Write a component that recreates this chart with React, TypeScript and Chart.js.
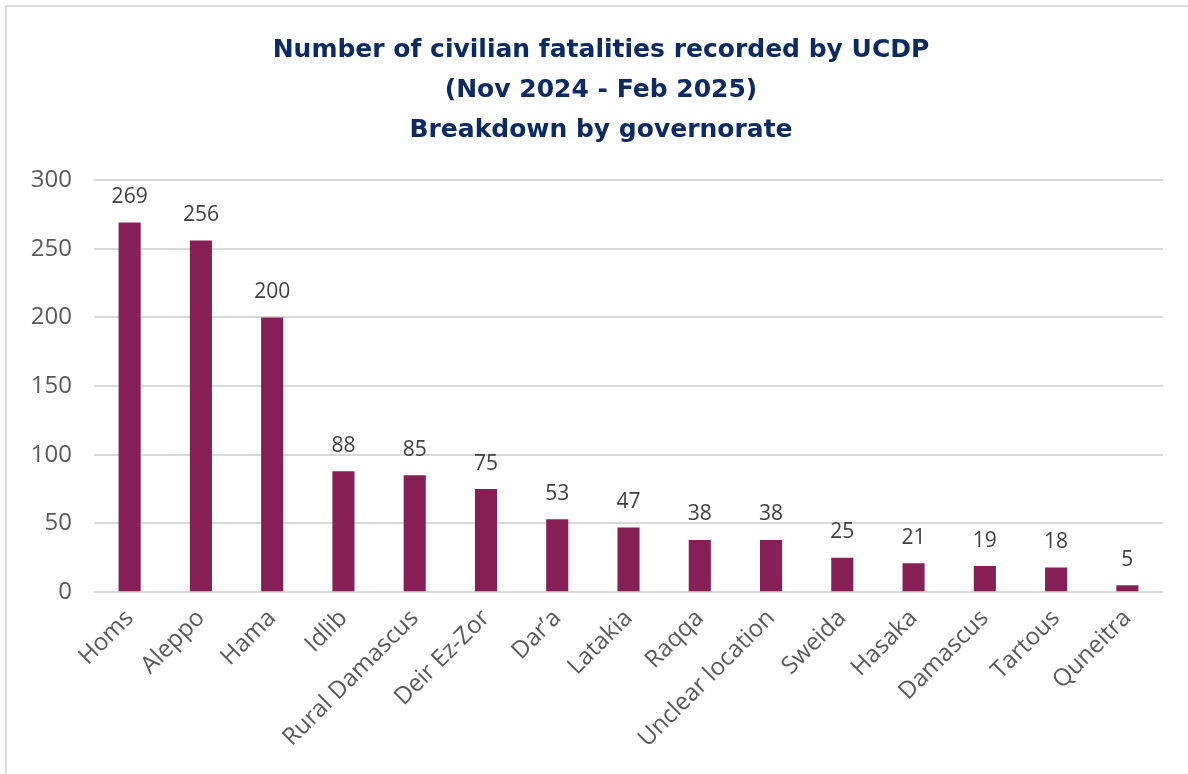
import React, { useEffect, useRef } from "react";
import { Chart, registerables } from "chart.js";

Chart.register(...registerables);

const categories = [
  "Homs", "Aleppo", "Hama", "Idlib", "Rural Damascus", "Deir Ez-Zor", "Dar’a", "Latakia",
  "Raqqa", "Unclear location", "Sweida", "Hasaka", "Damascus", "Tartous", "Quneitra",
];
const fatalities = [269, 256, 200, 88, 85, 75, 53, 47, 38, 38, 25, 21, 19, 18, 5];
const yTicks = [0, 50, 100, 150, 200, 250, 300];
const titleLines = [
  "Number of civilian fatalities recorded by UCDP",
  "(Nov 2024 - Feb 2025)",
  "Breakdown by governorate",
];

const FONT = "'Open Sans', sans-serif";

const valueLabels = {
  id: "valueLabels",
  afterLayout(chart: any) {
    // nudge the title's centre to match the original
    if (chart.titleBlock) chart.titleBlock.left += 19;
  },
  afterDatasetsDraw(chart: any) {
    const ctx = chart.ctx;
    const meta = chart.getDatasetMeta(0);
    ctx.save();
    ctx.font = "21px " + FONT;
    ctx.fillStyle = "#404040";
    ctx.textAlign = "center";
    ctx.textBaseline = "bottom";
    meta.data.forEach((bar: any, i: number) => {
      ctx.fillText(String(chart.data.datasets[0].data[i]), bar.x, bar.y - 15);
    });
    ctx.restore();
  },
};

export default function App() {
  const ref = useRef<HTMLCanvasElement | null>(null);
  useEffect(() => {
    if (!ref.current) return;
    const chart = new Chart(ref.current, {
      type: "bar",
      data: {
        labels: categories,
        datasets: [
          {
            data: fatalities,
            backgroundColor: "#861f55",
            barPercentage: 0.62,
            categoryPercentage: 0.5,
          },
        ],
      },
      options: {
        animation: false,
        responsive: false,
        maintainAspectRatio: false,
        layout: { padding: { left: 20, right: 25, top: 10, bottom: 17 } },
        plugins: {
          legend: { display: false },
          tooltip: { enabled: false },
          title: {
            display: true,
            text: titleLines,
            color: "#0d2a62",
            font: { family: "'DejaVu Sans', sans-serif", size: 25, weight: "bold", lineHeight: 1.6 },
            padding: { top: 20, bottom: 30 },
          },
        },
        scales: {
          x: {
            grid: { display: false },
            border: { display: false },
            ticks: {
              color: "#595959",
              font: { family: FONT, size: 24 },
              minRotation: 45,
              maxRotation: 45,
              autoSkip: false,
              padding: 4,
            },
          },
          y: {
            min: 0,
            max: 300,
            afterBuildTicks: (axis: any) => {
              axis.ticks = yTicks.map((v) => ({ value: v }));
            },
            afterFit: (axis: any) => {
              axis.width = 74;
            },
            grid: { color: "#d9d9d9", lineWidth: 2, drawTicks: false },
            border: { display: false },
            ticks: {
              color: "#595959",
              font: { family: FONT, size: 24 },
              padding: 22,
            },
          },
        },
      },
      plugins: [valueLabels],
    });
    return () => chart.destroy();
  }, []);

  return (
    <div style={{ position: "absolute", left: 0, top: 0, width: 1188, height: 774, background: "#fff" }}>
      <div
        style={{
          position: "absolute",
          left: 5,
          top: 5,
          right: 0,
          bottom: 0,
          borderTop: "2px solid #dcdcdc",
          borderLeft: "2px solid #dcdcdc",
        }}
      />
      <canvas ref={ref} width={1188} height={774} style={{ position: "absolute", left: 0, top: 0 }} />
    </div>
  );
}
